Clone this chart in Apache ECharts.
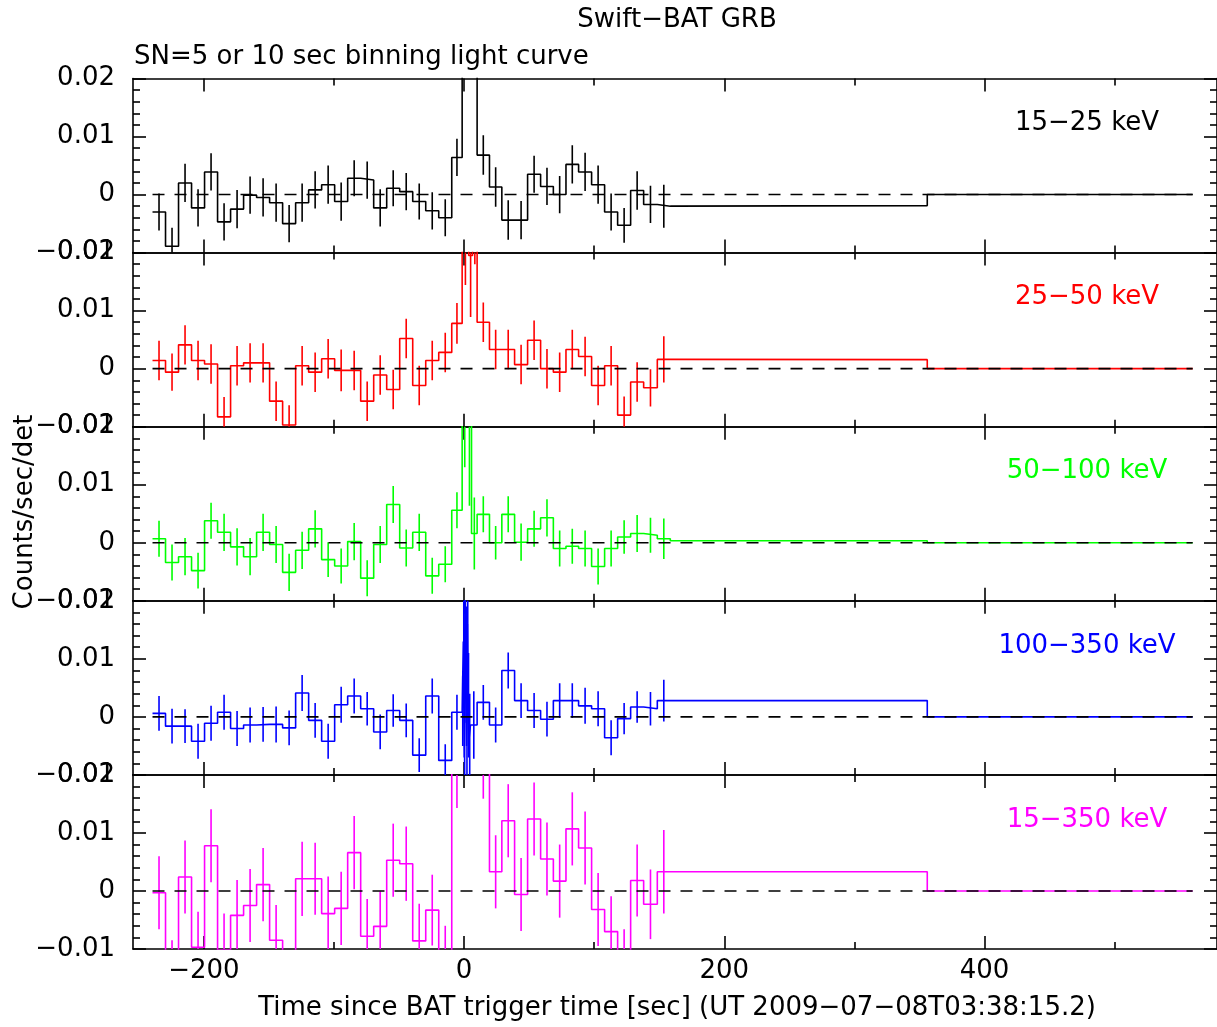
<!DOCTYPE html>
<html><head><meta charset="utf-8">
<script src="https://cdn.jsdelivr.net/npm/echarts@6/dist/echarts.min.js"></script>
<style>html,body{margin:0;padding:0;background:#fff}#c{width:1217px;height:1027px}</style>
</head><body><div id="c"></div>
<script>
// ---------- DATA (rates and errors in units of 1e-3 counts/sec/det) ----------
const UNIT = 1e-3;
const XMIN = -254.5, XMAX = 578.7;
const xMajorTicks = [-200, 0, 200, 400];
const xMinorTicks = [-100, 100, 300, 500];
const bandLabels = ['15\u221225 keV', '25\u221250 keV', '50\u2212100 keV', '100\u2212350 keV', '15\u2212350 keV'];
const bandColors = ['#000000', '#ff0000', '#00ff00', '#0000ff', '#ff00ff'];

// shared bin edges (sec since trigger)
const tPre  = [-239.5,-229.5,-219.5,-209.5,-199.5,-189.5,-179.5,-169.5,-159.5,-149.5,-139.5,-129.5,-119.5,-109.5,-99.5,-89.5,-79.5,-69.5,-59.5,-49.5,-39.5,-29.5,-19.5,-9.5,-1.5];
const tPost = [10,19.5,29,38.8,48.8,58.8,68.6,78.3,88,98,108,118,128,138,148.5,158.5];
const tLong = [158.5,356,560];

// 15-25 keV
const r1Pre  = [-3.0,-8.9,2.0,-2.3,3.9,-4.7,-2.5,-0.1,-0.5,-1.4,-5.0,-1.4,0.8,1.7,-1.2,2.8,2.5,-2.3,1.1,0.5,-1.2,-2.8,-4.0,6.4];
const e1Pre  = [3.2,3.2,3.3,3.2,3.2,3.2,3.3,3.2,3.3,3.3,3.2,3.3,3.2,3.3,3.3,3.1,3.2,3.2,3.1,3.2,3.1,3.2,3.2,3.2];
const t1Trig = [-1.5,10];
const r1Trig = [30];
const e1Trig = [9];
const r1Post = [6.8,1.3,-4.4,-4.4,3.5,1.4,0.0,5.2,3.9,1.7,-3.0,-5.3,0.7,-1.7,-2.0];
const e1Post = [3.4,3.4,3.4,3.3,3.2,3.2,3.2,3.3,3.3,3.3,3.2,3.0,3.3,3.2,3.7];
const r1Long = [-1.9,0];

// 25-50 keV
const r2Pre  = [1.4,-0.6,4.1,1.4,0.8,-8.3,0.5,1.0,1.0,-5.6,-9.7,0.5,-0.6,1.7,-0.3,-0.3,-5.6,-1.1,-3.6,5.2,-2.9,1.4,2.8,7.8];
const e2Pre  = [3.4,3.2,3.4,3.4,3.4,3.4,3.4,3.4,3.4,3.4,3.4,3.4,3.4,3.4,3.6,3.4,3.4,3.4,3.4,3.4,3.4,3.4,3.4,3.5];
const t2Trig = [-1.5,3.5,6.5,10];
const r2Trig = [25,19.5,26];
const e2Trig = [10.6,10.6,8];
const r2Post = [8.0,3.3,3.3,0.7,4.9,0.0,-0.6,3.3,2.1,-2.9,0.5,-8.0,-2.3,-3.3,1.6];
const e2Post = [3.4,3.4,3.4,3.4,3.4,3.4,3.4,3.4,3.4,3.4,3.4,3.2,3.4,3.2,4.0];
const r2Long = [1.55,0];

// 50-100 keV
const r3Pre  = [0.7,-3.4,-2.4,-4.8,3.8,1.8,-0.7,-2.4,1.8,-0.3,-5.1,-1.3,2.4,-2.9,-4.0,0.2,-6.1,-0.3,6.6,-0.9,1.8,-5.7,-3.7,5.6];
const e3Pre  = [3.1,3.1,3.2,3.1,3.1,3.2,3.2,3.2,3.2,3.2,3.2,3.2,3.2,3.0,3.0,3.2,3.1,3.2,3.2,3.2,3.2,3.1,3.1,3.1];
const t3Trig = [-1.5,2.5,5.7,10];
const r3Trig = [27,24,1.6];
const e3Trig = [14,17.6,6.2];
const r3Post = [4.9,0.0,4.9,0.1,2.4,4.3,-1.0,-0.6,-1.0,-4.1,-1.0,1.0,1.6,1.3,0.7];
const e3Post = [3.1,2.9,3.1,3.2,3.1,3.2,3.1,3.0,3.1,3.1,3.1,2.9,3.2,3.0,3.5];
const r3Long = [0.35,0];

// 100-350 keV
const r4Pre  = [0.6,-1.6,-1.6,-4.2,-1.1,0.8,-2.0,-1.4,-1.3,-1.3,-1.9,4.1,-0.6,-4.2,2.1,3.6,1.4,-2.6,1.1,-0.6,-6.6,3.6,-7.5,0.8];
const e4Pre  = [3.0,3.0,2.9,3.0,3.0,3.0,3.0,3.0,3.0,3.1,3.0,3.1,3.0,3.0,3.1,3.0,2.9,3.0,2.8,2.9,2.9,3.0,2.8,3.0];
const t4Trig = [-1.5,-0.6,0.1,0.7,1.3,1.9,2.5,3.1,3.7,4.9,10];
const r4Trig = [1.0,13.0,-7.0,22.0,9.0,-5.0,16.0,2.0,-4.0,-1.4];
const e4Trig = [6.0,9.0,10.0,12.0,10.0,11.0,10.0,9.0,8.0,5.8];
const r4Post = [2.5,-1.4,8.0,2.8,1.1,-0.4,2.8,2.8,1.9,1.4,-3.6,-0.3,1.7,1.4,2.8];
const e4Post = [3.0,3.0,3.1,3.0,3.0,3.0,3.0,3.0,3.1,3.0,3.0,2.7,2.7,2.9,3.6];
const r4Long = [2.8,0];

// 15-350 keV
const r5Pre  = [-0.3,-15.0,2.4,-9.7,7.8,-10.2,-4.2,-2.5,1.1,-8.5,-18.0,2.1,2.1,-3.9,-3.0,6.6,-7.8,-6.1,5.3,4.7,-8.6,-3.3,-12.3,20.6];
const e5Pre  = [6.3,6.5,6.3,6.1,6.3,6.3,6.1,6.3,6.3,6.1,6.5,6.4,6.2,6.4,6.3,6.3,6.4,6.0,6.3,6.4,6.4,6.1,6.3,6.3];
const t5Trig = [-1.5,10];
const r5Trig = [40];
const e5Trig = [8];
const r5Post = [22.2,3.3,12.1,-0.6,12.4,5.5,1.7,10.7,7.4,-3.2,-7.0,-12.9,1.8,-2.3,3.3];
const e5Post = [6.3,6.3,6.3,6.3,6.3,6.3,6.3,6.3,6.3,6.3,6.1,6.3,6.2,6.0,7.2];
const r5Long = [3.3,0];

const bands = [
  {tTrig:t1Trig, rPre:r1Pre, ePre:e1Pre, rTrig:r1Trig, eTrig:e1Trig, rPost:r1Post, ePost:e1Post, rLong:r1Long},
  {tTrig:t2Trig, rPre:r2Pre, ePre:e2Pre, rTrig:r2Trig, eTrig:e2Trig, rPost:r2Post, ePost:e2Post, rLong:r2Long},
  {tTrig:t3Trig, rPre:r3Pre, ePre:e3Pre, rTrig:r3Trig, eTrig:e3Trig, rPost:r3Post, ePost:e3Post, rLong:r3Long},
  {tTrig:t4Trig, rPre:r4Pre, ePre:e4Pre, rTrig:r4Trig, eTrig:e4Trig, rPost:r4Post, ePost:e4Post, rLong:r4Long},
  {tTrig:t5Trig, rPre:r5Pre, ePre:e5Pre, rTrig:r5Trig, eTrig:e5Trig, rPost:r5Post, ePost:e5Post, rLong:r5Long}
];

// ---------- LAYOUT / STYLE ----------
const FONT = 'DejaVu Sans';
const FS = 26;
const LW = 1.6;
const GRID_LEFT = 133, GRID_RIGHT = -3, GRID_TOP0 = 78.5, GRID_H = 174.1;

function assemble(b) {
  const edges = tPre.concat(b.tTrig.slice(1), tPost.slice(1), tLong.slice(1));
  const vals = b.rPre.concat(b.rTrig, b.rPost, b.rLong);
  const errs = b.ePre.concat(b.eTrig, b.ePost, b.rLong.map(() => 0));
  const steps = [], bars = [];
  for (let k = 0; k < vals.length; k++) {
    steps.push([edges[k], vals[k] * UNIT], [edges[k + 1], vals[k] * UNIT]);
    if (errs[k] > 0) bars.push([(edges[k] + edges[k + 1]) / 2, vals[k] * UNIT, errs[k] * UNIT]);
  }
  return {steps, bars};
}

const grids = [], xAxes = [], yAxes = [], series = [], graphics = [];
const axisLineStyle = {show: true, onZero: false, lineStyle: {color: '#000', width: LW}};
const noLine = {show: false, onZero: false};
const fmtY = v => Math.abs(v) < 1e-9 ? '0' : (v < 0 ? '\u2212' : '') + Math.abs(v).toFixed(2);
const fmtX = v => v < 0 ? '\u2212' + Math.abs(v) : String(v);

bands.forEach((b, i) => {
  const top = GRID_TOP0 + i * GRID_H;
  grids.push({left: GRID_LEFT, right: GRID_RIGHT, top: top, height: GRID_H, containLabel: false});
  const isLast = i === bands.length - 1;
  const baseX = {gridIndex: i, type: 'value', min: XMIN, max: XMAX, splitLine: {show: false}, minorSplitLine: {show: false}};
  xAxes.push(Object.assign({}, baseX, {
    position: 'bottom', axisLine: axisLineStyle,
    axisTick: {show: true, inside: true, length: 13, customValues: xMajorTicks, lineStyle: {color: '#000', width: LW}},
    axisLabel: {show: isLast, customValues: xMajorTicks, formatter: fmtX, margin: 9, color: '#000', fontFamily: FONT, fontSize: FS}
  }));
  xAxes.push(Object.assign({}, baseX, {
    position: 'top', axisLine: axisLineStyle,
    axisTick: {show: true, inside: true, length: 13, customValues: xMajorTicks, lineStyle: {color: '#000', width: LW}},
    axisLabel: {show: false}
  }));
  xAxes.push(Object.assign({}, baseX, {
    position: 'bottom', axisLine: noLine,
    axisTick: {show: true, inside: true, length: 7, customValues: xMinorTicks, lineStyle: {color: '#000', width: LW}},
    axisLabel: {show: false}
  }));
  xAxes.push(Object.assign({}, baseX, {
    position: 'top', axisLine: noLine,
    axisTick: {show: true, inside: true, length: 7, customValues: xMinorTicks, lineStyle: {color: '#000', width: LW}},
    axisLabel: {show: false}
  }));
  const baseY = {gridIndex: i, type: 'value', min: -0.01, max: 0.02, interval: 0.01,
    splitLine: {show: false}, minorSplitLine: {show: false}, axisLine: axisLineStyle,
    axisTick: {show: true, inside: true, length: 13, lineStyle: {color: '#000', width: LW}},
    minorTick: {show: true, splitNumber: 5, length: 7, lineStyle: {color: '#000', width: LW}}};
  yAxes.push(Object.assign({}, baseY, {position: 'left',
    axisLabel: {show: true, formatter: fmtY, margin: 18, color: '#000', fontFamily: FONT, fontSize: FS}}));
  yAxes.push(Object.assign({}, baseY, {position: 'right', axisLabel: {show: false}}));

  const d = assemble(b);
  const color = bandColors[i];
  series.push({
    type: 'line', xAxisIndex: 4 * i, yAxisIndex: 2 * i, data: d.steps,
    showSymbol: false, symbol: 'none', clip: true, z: 2, silent: true,
    lineStyle: {color: color, width: LW}, animation: false
  });
  series.push({
    type: 'custom', xAxisIndex: 4 * i, yAxisIndex: 2 * i, data: d.bars, clip: true, z: 2, silent: true,
    encode: {x: 0, y: 1}, animation: false,
    renderItem: (params, api) => {
      const x = api.value(0), y = api.value(1), e = api.value(2);
      const p1 = api.coord([x, y - e]), p2 = api.coord([x, y + e]);
      return {type: 'line', shape: {x1: p1[0], y1: p1[1], x2: p2[0], y2: p2[1]},
              style: {stroke: color, lineWidth: LW}};
    }
  });
  series.push({
    type: 'line', xAxisIndex: 4 * i, yAxisIndex: 2 * i, data: [[tPre[0], 0], [tLong[tLong.length - 1], 0]],
    showSymbol: false, symbol: 'none', z: 3, silent: true, animation: false,
    lineStyle: {color: '#000', width: LW, type: [12, 10]}
  });
  graphics.push({type: 'text', x: 1087, y: top + 45,
    style: {text: bandLabels[i], fill: color, font: FS + 'px "' + FONT + '"', align: 'center', verticalAlign: 'middle'}});
});

graphics.push({type: 'text', x: 677, y: 20,
  style: {text: 'Swift\u2212BAT GRB', fill: '#000', font: FS + 'px "' + FONT + '"', align: 'center', verticalAlign: 'middle'}});
graphics.push({type: 'text', x: 134, y: 57,
  style: {text: 'SN=5 or 10 sec binning light curve', fill: '#000', font: FS + 'px "' + FONT + '"', align: 'left', verticalAlign: 'middle'}});
graphics.push({type: 'text', x: 677, y: 1008,
  style: {text: 'Time since BAT trigger time [sec] (UT 2009\u221207\u221208T03:38:15.2)', fill: '#000', font: FS + 'px "' + FONT + '"', align: 'center', verticalAlign: 'middle'}});
graphics.push({type: 'text', x: 25, y: 512, rotation: Math.PI / 2,
  style: {text: 'Counts/sec/det', fill: '#000', font: FS + 'px "' + FONT + '"', align: 'center', verticalAlign: 'middle'}});

const chart = echarts.init(document.getElementById('c'), null, {renderer: 'canvas'});
chart.setOption({
  backgroundColor: '#ffffff',
  animation: false,
  grid: grids, xAxis: xAxes, yAxis: yAxes, series: series, graphic: graphics
});
</script></body></html>
